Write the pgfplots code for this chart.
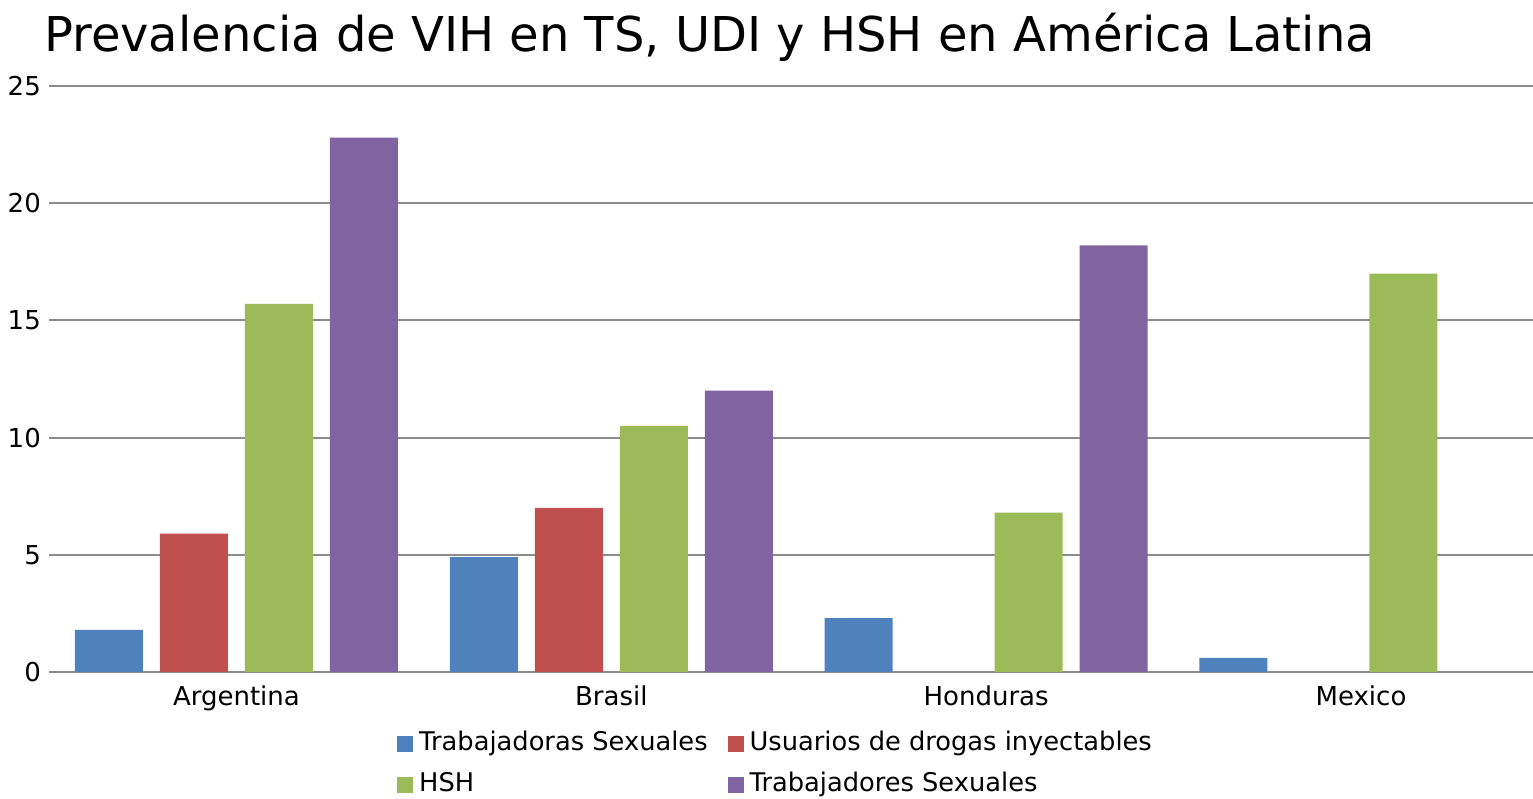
\documentclass[border=0pt]{standalone}
\usepackage{pgfplots}
\pgfplotsset{compat=1.18}
\usepackage{fontspec}
\setmainfont{DejaVu Sans}
\definecolor{cBlue}{HTML}{4F81BD}
\definecolor{cRed}{HTML}{C0504D}
\definecolor{cGreen}{HTML}{9BBB59}
\definecolor{cPurple}{HTML}{8064A2}
\definecolor{cGrid}{HTML}{8C8C8C}
\begin{document}
\begin{tikzpicture}[x=1bp,y=1bp]
\useasboundingbox (0,0) rectangle (1533,798);
\node[anchor=base west, inner sep=0pt, font=\fontsize{48bp}{58bp}\selectfont] at (44,746) {Prevalencia de VIH en TS, UDI y HSH en América Latina};
\begin{axis}[
  at={(49bp,126bp)}, anchor=south west,
  scale only axis, width=1484bp, height=586bp,
  ybar, bar width=68bp,
  xmin=-0.5, xmax=3.459, ymin=0, ymax=25,
  xtick={0,1,2,3}, xticklabels={Argentina,Brasil,Honduras,Mexico},
  ytick={0,5,10,15,20,25},
  /pgf/number format/assume math mode=true,
  major tick length=0pt,
  ymajorgrids, grid style={cGrid, line width=2bp},
  axis x line*=bottom, axis y line*=left,
  x axis line style={cGrid, line width=2bp, -},
  y axis line style={draw=none},
  ticklabel style={font=\fontsize{26bp}{30bp}\selectfont, inner sep=0pt},
  yticklabel style={xshift=-8bp},
  xticklabel style={yshift=-14bp},
  clip=false,
  legend columns=2,
  legend cell align=left,
  legend image code/.code={\fill[#1] (0bp,-8bp) rectangle (16bp,8bp);},
  legend style={draw=none, fill=none, at={(axis description cs:0.2345,-0.102)}, anchor=north west,
    inner sep=0pt, font=\fontsize{25.7bp}{30bp}\selectfont,
    nodes={inner sep=0pt, text height=19bp, text depth=6bp},
    row sep=16bp,
    /tikz/every odd column/.append style={column sep=6bp},
    /tikz/every even column/.append style={column sep=20bp}},
]
\addplot+[draw=none, fill=cBlue, bar shift=-127.5bp] coordinates {(0,1.8) (1,4.9) (2,2.3) (3,0.6)};
\addplot+[draw=none, fill=cRed, bar shift=-42.5bp] coordinates {(0,5.9) (1,7.0)};
\addplot+[draw=none, fill=cGreen, bar shift=42.5bp] coordinates {(0,15.7) (1,10.5) (2,6.8) (3,17.0)};
\addplot+[draw=none, fill=cPurple, bar shift=127.5bp] coordinates {(0,22.8) (1,12.0) (2,18.2)};
\legend{Trabajadoras Sexuales, Usuarios de drogas inyectables, HSH, Trabajadores Sexuales}
\end{axis}
\end{tikzpicture}
\end{document}
